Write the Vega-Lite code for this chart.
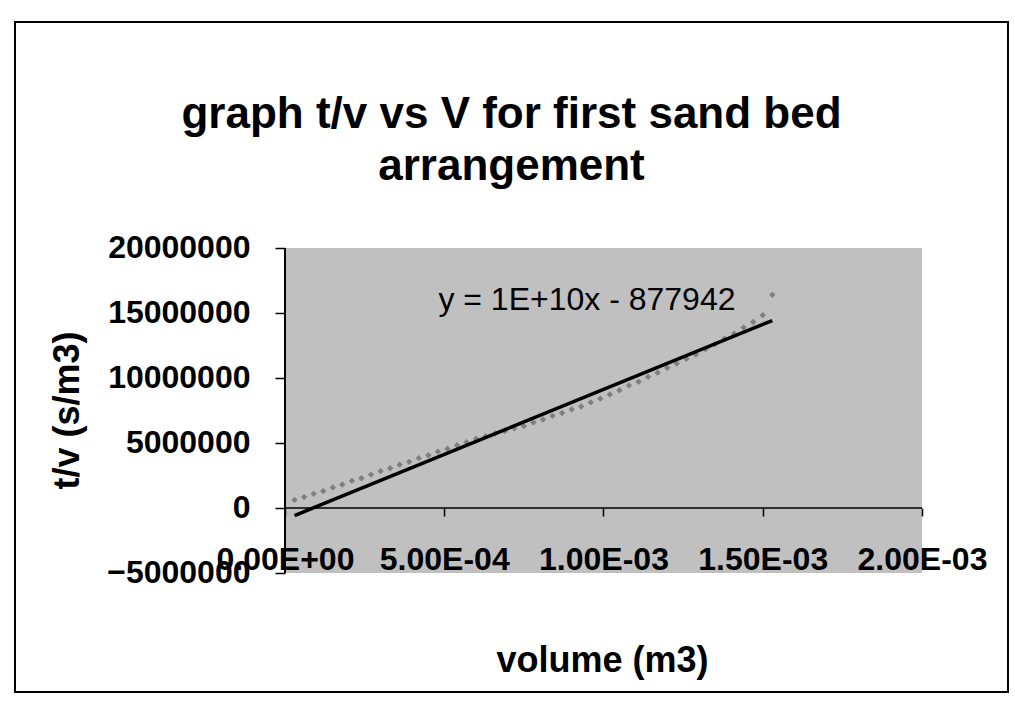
{
  "$schema": "https://vega.github.io/schema/vega-lite/v6.json",
  "width": 993,
  "height": 670,
  "autosize": {"type": "none"},
  "padding": {"left": 15, "top": 22, "right": 7, "bottom": 9},
  "background": "white",
  "config": {
    "view": {"stroke": "black", "strokeWidth": 2, "fill": "white"},
    "font": "Liberation Sans"
  },
  "title": {
    "text": ["graph t/v vs V for first sand bed", "arrangement"],
    "font": "Liberation Sans",
    "fontSize": 44,
    "fontWeight": "bold",
    "color": "black",
    "anchor": "middle",
    "baseline": "top",
    "offset": -167,
    "lineHeight": 52
  },
  "datasets": {
    "frame": [{"v": 0, "v2": 0.002, "tv": -5000000, "tv2": 20000000}],
    "yline": [{"v": 0, "tv": -5000000, "tv2": 20000000}],
    "zline": [{"v": 0, "v2": 0.002, "tv": 0}],
    "points": [
      {"v": 0.00003, "tv": 620000},
      {"v": 0.00006, "tv": 840000},
      {"v": 0.00009, "tv": 1090000},
      {"v": 0.00012, "tv": 1300000},
      {"v": 0.00015, "tv": 1580000},
      {"v": 0.00018, "tv": 1810000},
      {"v": 0.00021, "tv": 2090000},
      {"v": 0.00024, "tv": 2290000},
      {"v": 0.00027, "tv": 2570000},
      {"v": 0.00030, "tv": 2840000},
      {"v": 0.00033, "tv": 3060000},
      {"v": 0.00036, "tv": 3330000},
      {"v": 0.00039, "tv": 3550000},
      {"v": 0.00042, "tv": 3830000},
      {"v": 0.00045, "tv": 4060000},
      {"v": 0.00048, "tv": 4340000},
      {"v": 0.00051, "tv": 4560000},
      {"v": 0.00054, "tv": 4830000},
      {"v": 0.00057, "tv": 5060000},
      {"v": 0.00060, "tv": 5330000},
      {"v": 0.00063, "tv": 5510000},
      {"v": 0.00066, "tv": 5730000},
      {"v": 0.00069, "tv": 5910000},
      {"v": 0.00072, "tv": 6130000},
      {"v": 0.00075, "tv": 6310000},
      {"v": 0.00078, "tv": 6580000},
      {"v": 0.00081, "tv": 6810000},
      {"v": 0.00084, "tv": 7080000},
      {"v": 0.00087, "tv": 7310000},
      {"v": 0.00090, "tv": 7580000},
      {"v": 0.00093, "tv": 7810000},
      {"v": 0.00096, "tv": 8130000},
      {"v": 0.00099, "tv": 8410000},
      {"v": 0.00102, "tv": 8730000},
      {"v": 0.00105, "tv": 9060000},
      {"v": 0.00108, "tv": 9430000},
      {"v": 0.00111, "tv": 9710000},
      {"v": 0.00114, "tv": 10080000},
      {"v": 0.00117, "tv": 10410000},
      {"v": 0.00120, "tv": 10780000},
      {"v": 0.00123, "tv": 11110000},
      {"v": 0.00126, "tv": 11480000},
      {"v": 0.00129, "tv": 11810000},
      {"v": 0.00132, "tv": 12230000},
      {"v": 0.00135, "tv": 12610000},
      {"v": 0.00138, "tv": 13030000},
      {"v": 0.00141, "tv": 13410000},
      {"v": 0.00144, "tv": 13880000},
      {"v": 0.00147, "tv": 14310000},
      {"v": 0.00150, "tv": 14830000},
      {"v": 0.00153, "tv": 16400000}
    ],
    "trend": [
      {"v": 0.00003, "tv": -577942},
      {"v": 0.00153, "tv": 14422058}
    ],
    "label": [{"v": 0.000948, "tv": 16000000, "text": "y = 1E+10x - 877942"}]
  },
  "encoding": {
    "x": {
      "field": "v",
      "type": "quantitative",
      "scale": {"domain": [-0.00084772, 0.00227002], "nice": false, "zero": false},
      "axis": {
        "title": "volume (m3)",
        "values": [0, 0.0005, 0.001, 0.0015, 0.002],
        "labelExpr": "datum.value == 0 ? '0.00E+00' : upper(replace(format(datum.value, '.2e'), 'e-', 'e-0'))",
        "offset": -184,
        "zindex": 1,
        "domain": false,
        "grid": false,
        "ticks": true,
        "tickSize": 8,
        "tickColor": "black",
        "tickWidth": 1.5,
        "labelFont": "Liberation Sans",
        "labelFontSize": 32,
        "labelFontWeight": "bold",
        "labelColor": "black",
        "labelPadding": 28,
        "labelFlush": false,
        "labelOverlap": false,
        "titleFont": "Liberation Sans",
        "titleFontSize": 36,
        "titleFontWeight": "bold",
        "titleColor": "black",
        "titleX": 587,
        "titleY": 152,
        "titleBaseline": "middle",
        "titleAlign": "center"
      }
    },
    "y": {
      "field": "tv",
      "type": "quantitative",
      "scale": {"domain": [-14153850, 37384600], "nice": false, "zero": false},
      "axis": {
        "title": "t/v (s/m3)",
        "values": [-5000000, 0, 5000000, 10000000, 15000000, 20000000],
        "format": "d",
        "offset": -270,
        "zindex": 1,
        "domain": false,
        "grid": false,
        "ticks": true,
        "tickSize": 10,
        "tickColor": "black",
        "tickWidth": 1.5,
        "labelFont": "Liberation Sans",
        "labelFontSize": 32,
        "labelFontWeight": "bold",
        "labelColor": "black",
        "labelPadding": 25,
        "labelOverlap": false,
        "labelFlush": false,
        "titleFont": "Liberation Sans",
        "titleFontSize": 36,
        "titleFontWeight": "bold",
        "titleColor": "black",
        "titleX": -218,
        "titleY": 388,
        "titleAngle": -90,
        "titleBaseline": "middle",
        "titleAlign": "center"
      }
    }
  },
  "layer": [
    {
      "data": {"name": "frame"},
      "mark": {"type": "rect", "fill": "#c0c0c0", "stroke": null},
      "encoding": {"x2": {"field": "v2"}, "y2": {"field": "tv2"}}
    },
    {
      "data": {"name": "yline"},
      "mark": {"type": "rule", "color": "black", "strokeWidth": 2},
      "encoding": {"y2": {"field": "tv2"}}
    },
    {
      "data": {"name": "zline"},
      "mark": {"type": "rule", "color": "black", "strokeWidth": 1.5},
      "encoding": {"x2": {"field": "v2"}}
    },
    {
      "data": {"name": "points"},
      "mark": {"type": "point", "shape": "diamond", "filled": true, "size": 40, "color": "#6e6e6e", "opacity": 0.8}
    },
    {
      "data": {"name": "trend"},
      "mark": {"type": "line", "color": "black", "strokeWidth": 3.5}
    },
    {
      "data": {"name": "label"},
      "mark": {"type": "text", "font": "Liberation Sans", "fontSize": 32, "color": "black", "align": "center", "baseline": "middle"},
      "encoding": {"text": {"field": "text"}}
    }
  ]
}
